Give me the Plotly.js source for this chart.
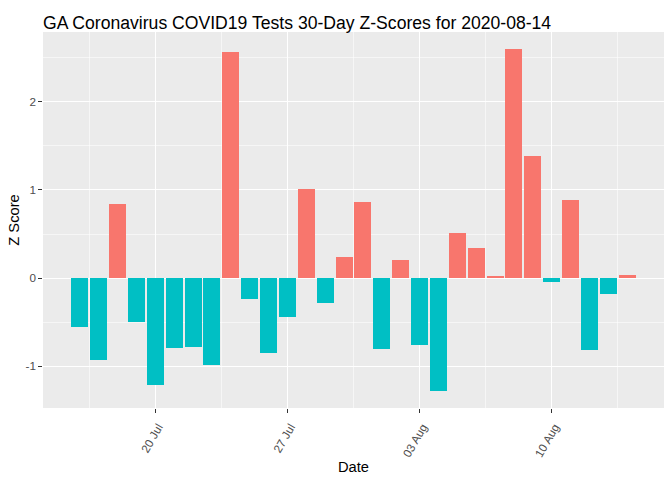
<!DOCTYPE html>
<html>
<head>
<meta charset="utf-8">
<script src="https://cdn.plot.ly/plotly-3.0.1.min.js"></script>
<style>html,body{margin:0;padding:0;background:#fff;}#chart{width:672px;height:480px;}</style>
</head>
<body>
<div id="chart"></div>
<script>
const dates = ["2020-07-16","2020-07-17","2020-07-18","2020-07-19","2020-07-20","2020-07-21","2020-07-22","2020-07-23","2020-07-24","2020-07-25","2020-07-26","2020-07-27","2020-07-28","2020-07-29","2020-07-30","2020-07-31","2020-08-01","2020-08-02","2020-08-03","2020-08-04","2020-08-05","2020-08-06","2020-08-07","2020-08-08","2020-08-09","2020-08-10","2020-08-11","2020-08-12","2020-08-13","2020-08-14"];
const zScores = [-0.55,-0.93,0.84,-0.50,-1.21,-0.79,-0.78,-0.98,2.56,-0.24,-0.85,-0.44,1.01,-0.28,0.24,0.86,-0.80,0.20,-0.76,-1.28,0.51,0.34,0.02,2.60,1.38,-0.04,0.89,-0.82,-0.18,0.04];
const posColor = "#F8766D";
const negColor = "#00BFC4";

const DAY = 86400000;
const trace = {
  type: "bar",
  x: dates,
  y: zScores,
  width: dates.map(() => 0.9 * DAY),
  marker: {color: zScores.map(v => v >= 0 ? posColor : negColor)},
  hoverinfo: "x+y",
  showlegend: false
};

const layout = {
  width: 672, height: 480,
  margin: {l: 43, r: 8, t: 32, b: 72},
  paper_bgcolor: "#FFFFFF",
  plot_bgcolor: "#EBEBEB",
  font: {family: "Liberation Sans, Arial, sans-serif", color: "#000"},
  title: {text: "GA Coronavirus COVID19 Tests 30-Day Z-Scores for 2020-08-14", x: 43/672, xanchor: "left", y: 0.953, yanchor: "middle", font: {size: 17.6, color: "#000"}},
  bargap: 0,
  xaxis: {
    type: "date",
    range: ["2020-07-14 01:19", "2020-08-15 22:41"],
    tick0: "2020-07-20", dtick: 7 * DAY,
    tickformat: "%d %b",
    tickangle: -60,
    ticks: "outside", ticklen: 3.7, tickcolor: "#333333", tickwidth: 1.07,
    tickfont: {size: 11.7, color: "#4D4D4D"},
    ticklabelshift: 3, ticklabelstandoff: 3,
    showgrid: true, gridcolor: "#FFFFFF", gridwidth: 1.07,
    minor: {tick0: "2020-07-16 12:00", dtick: 7 * DAY, showgrid: true, gridcolor: "#FFFFFF", gridwidth: 0.53, ticks: ""},
    zeroline: false, showline: false,
    title: {text: "Date", font: {size: 14.7, color: "#000"}, standoff: 3}
  },
  yaxis: {
    range: [-1.472, 2.79],
    tickvals: [-1, 0, 1, 2],
    ticktext: ["-1", "0", "1", "2"],
    ticks: "outside", ticklen: 3.7, tickcolor: "#333333", tickwidth: 1.07,
    tickfont: {size: 11.7, color: "#4D4D4D"},
    showgrid: true, gridcolor: "#FFFFFF", gridwidth: 1.07,
    minor: {tickvals: [-0.5, 0.5, 1.5, 2.5], showgrid: true, gridcolor: "#FFFFFF", gridwidth: 0.53, ticks: ""},
    zeroline: false, showline: false,
    title: {text: "Z Score", font: {size: 14.7, color: "#000"}, standoff: 2}
  }
};

Plotly.newPlot("chart", [trace], layout, {displayModeBar: false, staticPlot: true});
</script>
</body>
</html>
